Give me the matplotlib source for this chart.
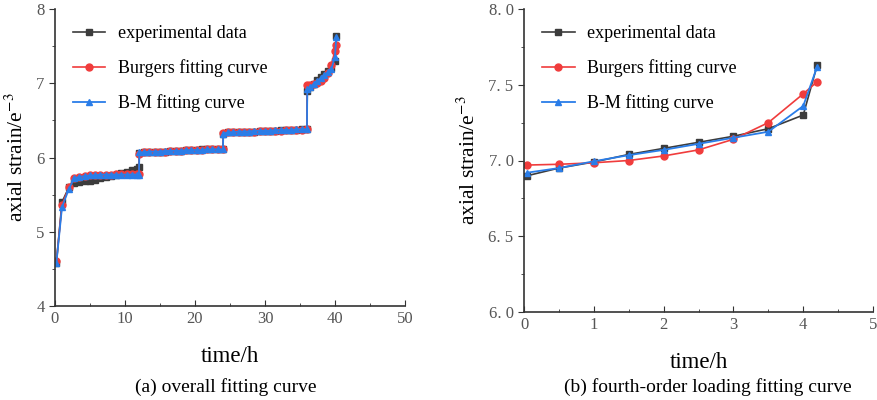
import matplotlib
matplotlib.use("Agg")
import matplotlib.pyplot as plt
from matplotlib.ticker import MultipleLocator, FixedLocator, FixedFormatter

plt.rcParams['font.family'] = ['Liberation Serif', 'DejaVu Serif']
plt.rcParams['mathtext.fontset'] = 'stix'

# whole creep test, four loading stages (time in h, strain in e-3)
t_all = [0.2, 1, 2, 2.75, 3.5, 4.25, 5, 5.75, 6.5, 7.25, 8, 8.75, 9.5, 10.25, 11, 11.75, 12,
         12.05, 12.75, 13.5, 14.25, 15, 15.75, 16.5, 17.25, 18, 18.75, 19.5, 20.25, 21, 21.75, 22.5, 23.25, 24,
         24.05, 24.75, 25.5, 26.25, 27, 27.75, 28.5, 29.25, 30, 30.75, 31.5, 32.25, 33, 33.75, 34.5, 35.25, 36,
         36.05, 36.5, 37, 37.5, 38, 38.5, 39, 39.5, 40, 40.2]
exp_all = [4.58, 5.40, 5.60, 5.65, 5.67, 5.68, 5.69, 5.70, 5.72, 5.74, 5.75, 5.77, 5.79, 5.81, 5.83, 5.85, 5.87,
           6.06, 6.07, 6.07, 6.08, 6.08, 6.08, 6.09, 6.09, 6.09, 6.10, 6.10, 6.10, 6.11, 6.11, 6.11, 6.12, 6.12,
           6.32, 6.34, 6.34, 6.35, 6.35, 6.35, 6.35, 6.36, 6.36, 6.36, 6.36, 6.37, 6.37, 6.37, 6.37, 6.38, 6.38,
           6.90, 6.95, 6.99, 7.04, 7.08, 7.12, 7.16, 7.21, 7.30, 7.63]
burgers_all = [4.60, 5.36, 5.60, 5.72, 5.74, 5.75, 5.76, 5.76, 5.77, 5.77, 5.77, 5.78, 5.78, 5.78, 5.78, 5.78, 5.78,
               6.05, 6.07, 6.07, 6.08, 6.08, 6.08, 6.09, 6.09, 6.09, 6.10, 6.10, 6.10, 6.10, 6.11, 6.11, 6.11, 6.12,
               6.33, 6.34, 6.34, 6.35, 6.35, 6.35, 6.35, 6.36, 6.36, 6.36, 6.36, 6.36, 6.37, 6.37, 6.37, 6.37, 6.38,
               6.97, 6.975, 6.985, 7.00, 7.03, 7.07, 7.14, 7.25, 7.44, 7.52]
bm_all = [4.58, 5.33, 5.58, 5.72, 5.74, 5.75, 5.76, 5.76, 5.77, 5.77, 5.77, 5.77, 5.77, 5.77, 5.77, 5.77, 5.77,
          6.07, 6.07, 6.08, 6.08, 6.08, 6.09, 6.09, 6.09, 6.09, 6.10, 6.10, 6.10, 6.10, 6.11, 6.11, 6.11, 6.11,
          6.32, 6.34, 6.34, 6.35, 6.35, 6.35, 6.36, 6.36, 6.36, 6.36, 6.37, 6.37, 6.37, 6.37, 6.38, 6.38, 6.38,
          6.92, 6.95, 6.995, 7.035, 7.07, 7.11, 7.15, 7.19, 7.36, 7.62]

# fourth loading stage only
t4 = [0.05, 0.5, 1.0, 1.5, 2.0, 2.5, 3.0, 3.5, 4.0, 4.2]
exp4 = [6.90, 6.95, 6.99, 7.04, 7.08, 7.12, 7.16, 7.21, 7.30, 7.63]
burgers4 = [6.97, 6.975, 6.985, 7.00, 7.03, 7.07, 7.14, 7.25, 7.44, 7.52]
bm4 = [6.92, 6.95, 6.995, 7.035, 7.07, 7.11, 7.15, 7.19, 7.36, 7.62]

labels = ['experimental data', 'Burgers fitting curve', 'B-M fitting curve']
c_exp = '#3c3c3c'
c_bur = '#f03c3c'
c_bm = '#2a7de8'
tick_c = '#555555'

fig = plt.figure(figsize=(8.77, 4), dpi=100)
ax1 = fig.add_axes([0.0627, 0.235, 0.399, 0.7425])
ax2 = fig.add_axes([0.5975, 0.22, 0.398, 0.7575])


def draw(ax, t, e, b, m):
    ax.plot(t, e, '-s', color=c_exp, lw=1.2, ms=4.5, label=labels[0])
    ax.plot(t, b, '-o', color=c_bur, lw=1.2, ms=5, label=labels[1])
    ax.plot(t, m, '-^', color=c_bm, lw=1.3, ms=5, label=labels[2])
    for s in ['top', 'right']:
        ax.spines[s].set_visible(False)
    for s in ['left', 'bottom']:
        ax.spines[s].set_color('#333333')
        ax.spines[s].set_linewidth(1.2)
    ax.tick_params(axis='x', which='both', direction='in', colors='#333333', labelcolor=tick_c, labelsize=12)
    ax.tick_params(axis='y', which='both', direction='out', colors='#333333', labelcolor=tick_c, labelsize=12)
    ax.tick_params(which='major', length=4)
    ax.tick_params(which='minor', length=2)
    ax.set_xlabel('time/h', fontsize=16.5, labelpad=14)
    ax.set_ylabel('axial strain/e$^{-3}$', fontsize=15.5, labelpad=6)
    ax.legend(loc='upper left', bbox_to_anchor=(0.005, 1.0), frameon=False, fontsize=13,
              handlelength=1.8, handletextpad=0.7, labelspacing=0.95)


draw(ax1, t_all, exp_all, burgers_all, bm_all)
ax1.set_xlim(0, 50)
ax1.set_ylim(4, 8)
ax1.xaxis.set_major_locator(MultipleLocator(10))
ax1.xaxis.set_minor_locator(MultipleLocator(5))
ax1.yaxis.set_major_locator(MultipleLocator(1))
ax1.yaxis.set_minor_locator(MultipleLocator(0.5))

draw(ax2, t4, exp4, burgers4, bm4)
ax2.set_xlim(0, 5)
ax2.set_ylim(6, 8)
ax2.xaxis.set_major_locator(MultipleLocator(1))
ax2.xaxis.set_minor_locator(MultipleLocator(0.5))
ax2.yaxis.set_major_locator(FixedLocator([6.0, 6.5, 7.0, 7.5, 8.0]))
ax2.yaxis.set_major_formatter(FixedFormatter(['6. 0', '6. 5', '7. 0', '7. 5', '8. 0']))
ax2.yaxis.set_minor_locator(MultipleLocator(0.25))

fig.text(0.257, 0.02, '(a) overall fitting curve', ha='center', fontsize=14)
fig.text(0.807, 0.02, '(b) fourth-order loading fitting curve', ha='center', fontsize=14)

fig.savefig('out.png', dpi=100)
